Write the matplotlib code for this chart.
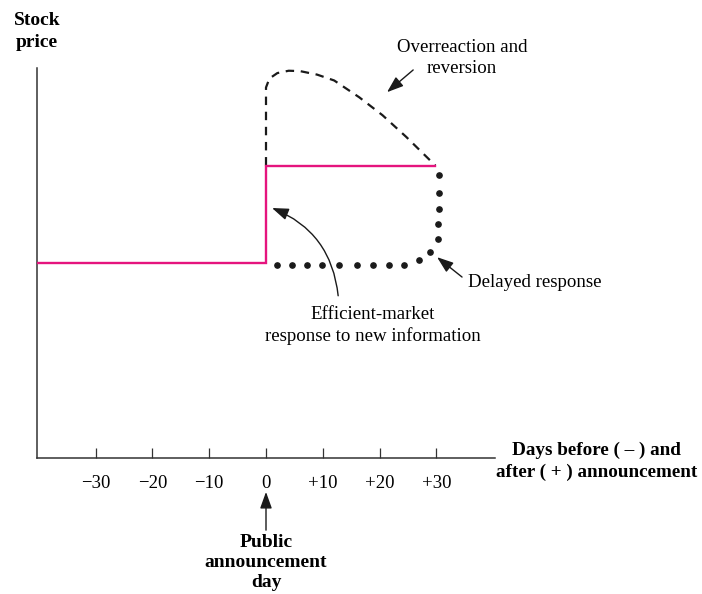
import numpy as np
import matplotlib.pyplot as plt

plt.rcParams['font.family'] = ['Liberation Serif', 'DejaVu Serif']

# data (days relative to announcement, price level)
efficient_x = [-40.3, 0, 0, 29.8]
efficient_y = [50, 50, 75, 75]

overreact_x = [0, 0, 0.6, 2, 4, 6, 9, 12, 16.4, 20.5, 24.7, 29.8]
overreact_y = [75, 95, 97.3, 98.7, 99.3, 99.2, 98.3, 96.8, 92.5, 87.9, 82.3, 75]

delayed_x = [1.9, 4.6, 7.2, 9.9, 12.9, 16.0, 18.8, 21.7, 24.3, 26.9, 28.9, 30.3, 30.3, 30.4, 30.4, 30.4]
delayed_y = [49.5, 49.5, 49.5, 49.5, 49.5, 49.5, 49.5, 49.5, 49.5, 50.8, 52.8, 56.2, 60.0, 63.8, 67.9, 72.6]

ticks = [-30, -20, -10, 0, 10, 20, 30]
tick_labels = ['\u221230', '\u221220', '\u221210', '0', '+10', '+20', '+30']

fig = plt.figure(figsize=(7.02, 5.94), dpi=100)
ax = fig.add_axes([37/702, 136/594, 458/702, 390/594])
ax.set_xlim(-40.3, 40.3)
ax.set_ylim(0, 100)

pink = '#e5147e'
ax.plot(efficient_x, efficient_y, color=pink, lw=1.7, solid_joinstyle='miter', zorder=3)
ax.plot(overreact_x, overreact_y, color='#1a1a1a', lw=1.6, dashes=(3.8, 3.0), zorder=2)
ax.plot(delayed_x, delayed_y, 'o', color='#1a1a1a', ms=3.8, ls='none', zorder=2)

for s in ['top', 'right']:
    ax.spines[s].set_visible(False)
for s in ['left', 'bottom']:
    ax.spines[s].set_color('#333333')
    ax.spines[s].set_linewidth(1.1)

ax.set_yticks([])
ax.set_xticks(ticks)
ax.set_xticklabels(tick_labels, fontsize=13.5)
ax.tick_params(axis='x', direction='in', length=7, width=0.9, color='#333333', pad=12)

# axis titles
ax.text(-40.3, 109.3, 'Stock\nprice', ha='center', va='center', fontsize=14,
        fontweight='bold', linespacing=1.38, clip_on=False)
ax.text(58.2, -0.9, 'Days before ( \u2013 ) and\nafter ( + ) announcement', ha='center', va='center',
        fontsize=13.8, fontweight='bold', linespacing=1.4, clip_on=False)

arrow = dict(arrowstyle='-|>,head_length=0.5,head_width=0.18', color='#1a1a1a', lw=1.0,
             mutation_scale=20, shrinkA=0, shrinkB=0)

ax.text(34.5, 102.6, 'Overreaction and\nreversion', ha='center', va='center',
        fontsize=13.6, linespacing=1.3, clip_on=False)
ax.annotate('', xy=(21.3, 93.8), xytext=(25.9, 99.5), arrowprops=arrow)

ax.text(35.6, 44.9, 'Delayed response', ha='left', va='center', fontsize=13.6)
ax.annotate('', xy=(30.1, 51.5), xytext=(34.5, 46.4), arrowprops=arrow)

ax.annotate('', xy=(1.06, 64.1), xytext=(12.7, 41.6),
            arrowprops=dict(arrow, connectionstyle='arc3,rad=0.3'))
ax.text(18.8, 33.9, 'Efficient-market\nresponse to new information', ha='center', va='center',
        fontsize=13.6, linespacing=1.3)

ax.annotate('', xy=(0, -8.7), xytext=(0, -18.5), arrowprops=arrow, annotation_clip=False)
ax.text(0, -19.6, 'Public\nannouncement\nday', ha='center', va='top', fontsize=14,
        fontweight='bold', linespacing=1.22, clip_on=False)

fig.savefig('out.png', dpi=100)
